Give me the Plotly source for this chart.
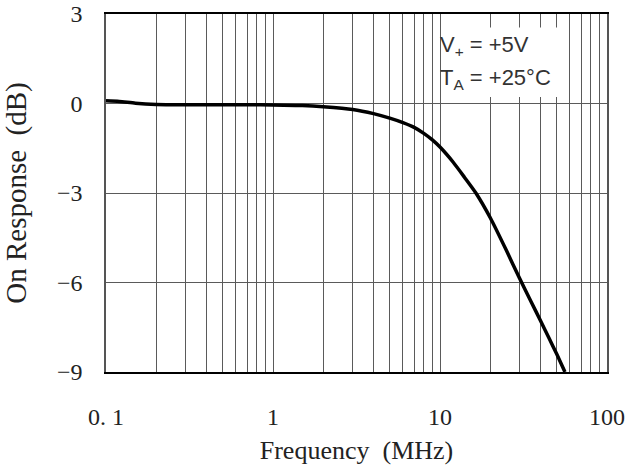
import plotly.graph_objects as go

# Data
freq_mhz = [0.1, 0.12, 0.15, 0.2, 0.3, 0.5, 0.7, 1, 1.5, 2, 3, 4, 5, 6, 7, 8, 9, 10,
            12, 14, 16.4, 20, 25, 30, 35, 40, 45, 50, 56]
response_db = [0.09, 0.07, 0.01, -0.03, -0.04, -0.04, -0.04, -0.05, -0.07, -0.11,
               -0.2, -0.34, -0.49, -0.64, -0.80, -1.00, -1.22, -1.46,
               -1.97, -2.47, -3.0, -3.83, -4.93, -5.87, -6.63, -7.28, -7.87, -8.4, -9.0]

x_major_vals = [0.1, 1, 10, 100]
x_major_text = ["0. 1", "1", "10", "100"]
x_minor_vals = [m * d for d in (0.1, 1, 10) for m in range(2, 10)]

y_tick_vals = [3, 0, -3, -6, -9]
y_tick_text = ["3", "0", "\u22123", "\u22126", "\u22129"]

legend_lines = ["V<sub>+</sub> = +5V", "T<sub>A</sub> = +25°C"]

label_font = "Liberation Serif, Times New Roman, serif"
grid_col = "#5a5a5a"
text_col = "#222222"

fig = go.Figure()
fig.add_trace(go.Scatter(
    x=freq_mhz, y=response_db, mode="lines",
    line=dict(color="black", width=3.5, shape="spline", smoothing=0.6),
    showlegend=False, hoverinfo="skip",
))

fig.add_shape(type="rect", xref="x", yref="y", layer="between",
              x0=10.15, x1=58.5, y0=0.22, y1=2.55,
              fillcolor="white", line=dict(width=0))

for i, t in enumerate(legend_lines):
    fig.add_annotation(text=t, xref="paper", yref="paper",
                       x=(438 - 106) / 501, y=(372 - (46 + i * 33)) / 358,
                       xanchor="left", yanchor="middle", showarrow=False,
                       font=dict(family="Liberation Sans, Arial", size=22, color="#333333"))

fig.update_layout(
    width=629, height=471,
    margin=dict(l=106, r=22, t=14, b=99, autoexpand=False),
    paper_bgcolor="white", plot_bgcolor="white",
    xaxis=dict(
        type="log", range=[-1, 2], automargin=False,
        tickmode="array", tickvals=x_major_vals, ticktext=x_major_text,
        ticks="", ticklabelstandoff=22, ticklabeloverflow="allow",
        tickfont=dict(family=label_font, size=24, color=text_col),
        showgrid=True, gridcolor=grid_col, gridwidth=1,
        minor=dict(tickmode="array", tickvals=x_minor_vals, showgrid=True,
                   gridcolor=grid_col, gridwidth=1, ticks=""),
        showline=True, linecolor="black", linewidth=2, mirror=True,
        zeroline=False,
        title=dict(text="Frequency\u00a0 (MHz)", standoff=12,
                   font=dict(family=label_font, size=26, color=text_col)),
    ),
    yaxis=dict(
        range=[-9, 3], automargin=False,
        tickmode="array", tickvals=y_tick_vals, ticktext=y_tick_text,
        ticks="", ticklabelstandoff=17, ticklabeloverflow="allow",
        tickfont=dict(family=label_font, size=24, color=text_col),
        showgrid=True, gridcolor=grid_col, gridwidth=1,
        showline=True, linecolor="#555555", linewidth=1.5, mirror=True,
        zeroline=False,
        title=dict(text="On Response\u00a0 (dB)", standoff=22,
                   font=dict(family=label_font, size=29, color=text_col)),
    ),
)

fig.write_html("out.html",
               config={"displayModeBar": False},
               post_script="document.body.style.margin='0';document.body.style.overflow='hidden';")
